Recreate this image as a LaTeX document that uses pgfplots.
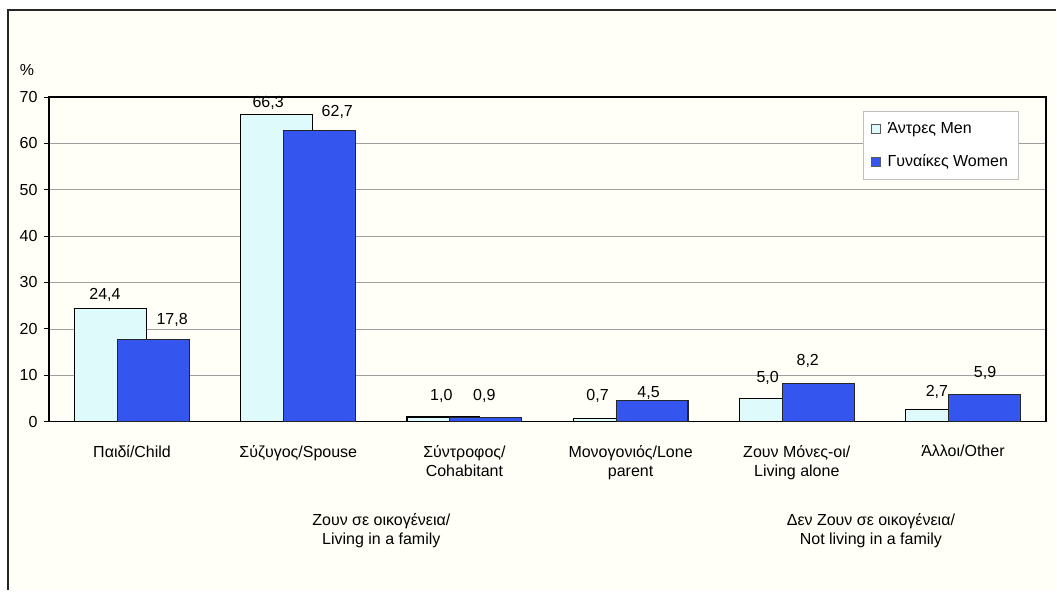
\documentclass[border=0pt]{standalone}
\usepackage{fontspec}
\setmainfont{Liberation Sans}
\usepackage{pgfplots}
\pgfplotsset{compat=1.18}
\definecolor{menfill}{RGB}{222,250,250}
\definecolor{womenfill}{RGB}{52,86,238}
\definecolor{bgcream}{RGB}{255,255,247}
\newcommand{\chartfont}{\fontsize{16bp}{19.5bp}\selectfont}
\begin{document}
\begin{tikzpicture}
% page and outer frame
\fill[white] (0bp,0bp) rectangle (1057bp,591bp);
\fill[bgcream] (8bp,0bp) rectangle (1057bp,581bp);
\draw[line width=1.8bp, black!85] (8bp,0bp) -- (8bp,581bp) -- (1057bp,581bp);
\begin{axis}[
	at={(49bp,169bp)}, anchor=south west,
	width=998bp, height=325bp, scale only axis,
	xmin=-0.5, xmax=5.5,
	ymin=0, ymax=70,
	ybar, bar width=0.433,
	axis line style={line width=1.3bp, black},
	ytick={0,10,...,70},
	ytick pos=left,
	ymajorgrids,
	major grid style={gray!75, line width=0.7bp},
	tick align=outside,
	major tick length=5bp,
	ytick style={draw=black, line width=0.8bp},
	xtick style={draw=none},
	xtick={0,...,5},
	xticklabels={Παιδί/Child, Σύζυγος/Spouse, {Σύντροφος/\\Cohabitant},
		{Μονογονιός/Lone\\parent}, {Ζουν Μόνες-οι/\\Living alone}, Άλλοι/Other},
	xticklabel style={align=center, font=\chartfont, yshift=-15bp},
	yticklabel style={font=\chartfont, xshift=-3bp},
	/pgf/number format/assume math mode=true,
	clip=false,
	legend style={at={(0.972,0.957)}, anchor=north east, draw=gray!50,
		fill=white, font=\chartfont, row sep=16bp,
		inner xsep=8bp, inner ysep=9bp},
	legend cell align=left,
	legend image code/.code={%
		\draw[#1, draw=gray!70!black, line width=0.5bp, bar shift=0pt]
		(3bp,-4.5bp) rectangle (12bp,4.5bp);
		\path (17bp,0bp);},
]
\addplot[fill=menfill, draw=black, line width=1.1bp, bar shift=-0.129]
	coordinates {(0,24.4) (1,66.3) (2,1.0) (3,0.7) (4,5.0) (5,2.7)};
\addlegendentry{Άντρες Men}
\addplot[fill=womenfill, draw=black!85, line width=1.1bp, bar shift=0.129]
	coordinates {(0,17.8) (1,62.7) (2,0.9) (3,4.5) (4,8.2) (5,5.9)};
\addlegendentry{Γυναίκες Women}

% value labels
\begin{scope}[every node/.style={font=\chartfont, inner sep=0pt}]
\node at (axis cs:-0.163,27.4) {24,4};
\node at (axis cs:0.241,22.0) {17,8};
\node at (axis cs:0.819,68.7) {66,3};
\node at (axis cs:1.235,66.8) {62,7};
\node at (axis cs:1.861,5.6) {1,0};
\node at (axis cs:2.120,5.6) {0,9};
\node at (axis cs:2.801,5.6) {0,7};
\node at (axis cs:3.108,6.2) {4,5};
\node at (axis cs:3.825,9.5) {5,0};
\node at (axis cs:4.066,13.1) {8,2};
\node at (axis cs:4.843,6.5) {2,7};
\node at (axis cs:5.133,10.6) {5,9};
\node at (axis cs:-0.632,75.8) {\%};
\node[align=center] at (axis cs:1.5,-23.5) {Ζουν σε οικογένεια/\\Living in a family};
\node[align=center] at (axis cs:4.446,-23.5) {Δεν Ζουν σε οικογένεια/\\Not living in a family};
\end{scope}
\end{axis}
\end{tikzpicture}
\end{document}
